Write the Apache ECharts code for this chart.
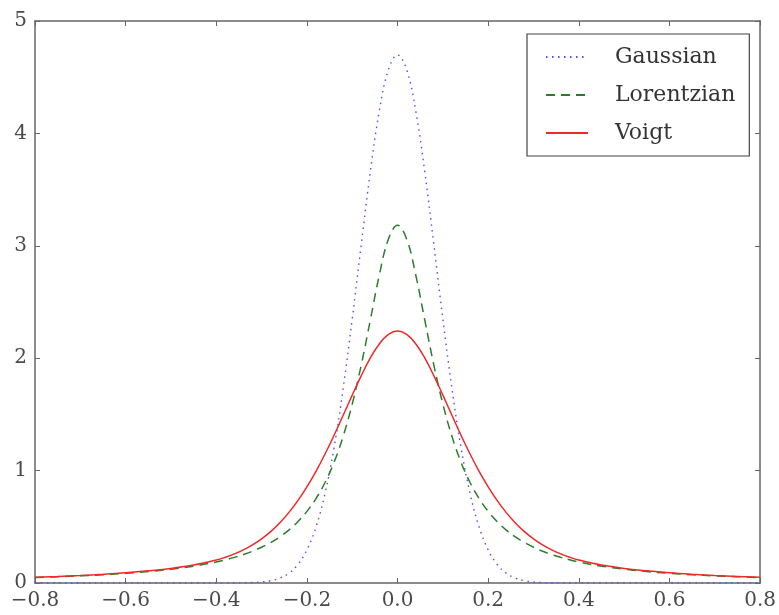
<!DOCTYPE html>
<html>
<head>
<meta charset="utf-8">
<script src="https://cdn.jsdelivr.net/npm/echarts@6/dist/echarts.min.js"></script>
<style>
html,body{margin:0;padding:0;background:#fff;}
#chart{width:779px;height:615px;}
</style>
</head>
<body>
<div id="chart"></div>
<script>
// x positions of the sampled points
const xs = [-0.8,-0.75,-0.7,-0.65,-0.6,-0.55,-0.5,-0.45,-0.4,
  -0.38,-0.36,-0.34,-0.32,-0.3,-0.28,-0.26,-0.24,-0.22,-0.2,-0.18,-0.16,-0.14,-0.12,-0.1,-0.08,-0.06,-0.04,-0.02,
  0,
  0.02,0.04,0.06,0.08,0.1,0.12,0.14,0.16,0.18,0.2,0.22,0.24,0.26,0.28,0.3,0.32,0.34,0.36,0.38,
  0.4,0.45,0.5,0.55,0.6,0.65,0.7,0.75,0.8];

const gaussian = [0,0,0,0,0,0,0,0,0.0001,
  0.0002,0.0006,0.0016,0.0039,0.0092,0.0205,0.0434,0.0867,0.164,0.294,0.497,0.797,1.207,1.731,2.349,3.014,3.660,4.204,4.569,
  4.697,
  4.569,4.204,3.660,3.014,2.349,1.731,1.207,0.797,0.497,0.294,0.164,0.0867,0.0434,0.0205,0.0092,0.0039,0.0016,0.0006,0.0002,
  0.0001,0,0,0,0,0,0,0,0];

const lorentzian = [0.0482,0.0556,0.0637,0.0736,0.0860,0.1019,0.1224,0.150,0.187,
  0.206,0.228,0.253,0.283,0.318,0.360,0.410,0.471,0.545,0.637,0.751,0.894,1.075,1.305,1.592,1.941,2.341,2.744,3.061,
  3.183,
  3.061,2.744,2.341,1.941,1.592,1.305,1.075,0.894,0.751,0.637,0.545,0.471,0.410,0.360,0.318,0.283,0.253,0.228,0.206,
  0.187,0.150,0.1224,0.1019,0.0860,0.0736,0.0637,0.0556,0.0482];

const voigt = [0.0502,0.0580,0.0668,0.0778,0.0912,0.1085,0.1297,0.1597,0.2046,
  0.2291,0.2588,0.2950,0.3391,0.3927,0.4572,0.5345,0.626,0.733,0.856,0.994,1.148,1.315,1.492,1.671,1.845,2.002,2.129,2.212,
  2.241,
  2.212,2.129,2.002,1.845,1.671,1.492,1.315,1.148,0.994,0.856,0.733,0.626,0.5345,0.4572,0.3927,0.3391,0.2950,0.2588,0.2291,
  0.2046,0.1597,0.1297,0.1085,0.0912,0.0778,0.0668,0.0580,0.0502];

const seriesNames = ['Gaussian','Lorentzian','Voigt'];
const xTickLabels = ['\u22120.8','\u22120.6','\u22120.4','\u22120.2','0.0','0.2','0.4','0.6','0.8'];
const yTickLabels = ['0','1','2','3','4','5'];

const X_MIN = -0.8, X_MAX = 0.8, X_STEP = 0.2;
const Y_MIN = 0, Y_MAX = 5, Y_STEP = 1;

const FONT = 'DejaVu Serif';
const FRAME = '#666';

function xLabel(v){ const i = Math.round((v - X_MIN)/X_STEP); return xTickLabels[i] ?? ''; }
function yLabel(v){ const i = Math.round((v - Y_MIN)/Y_STEP); return yTickLabels[i] ?? ''; }

function xAxisCfg(pos, labels){
  return {
    type:'value', position:pos, min:X_MIN, max:X_MAX, interval:X_STEP,
    axisLine:{show:true, onZero:false, lineStyle:{color:FRAME, width:1.5}},
    axisTick:{show:true, inside:true, length:5, lineStyle:{color:FRAME, width:1}},
    axisLabel:{show:labels, formatter:xLabel, color:'#4a4a4a', fontFamily:FONT, fontSize:20, margin:8},
    splitLine:{show:false}
  };
}
function yAxisCfg(pos, labels){
  return {
    type:'value', position:pos, min:Y_MIN, max:Y_MAX, interval:Y_STEP,
    axisLine:{show:true, onZero:false, lineStyle:{color:FRAME, width:1.5}},
    axisTick:{show:true, inside:true, length:5, lineStyle:{color:FRAME, width:1}},
    axisLabel:{show:labels, formatter:yLabel, color:'#4a4a4a', fontFamily:FONT, fontSize:20, margin:8},
    splitLine:{show:false}
  };
}

const chart = echarts.init(document.getElementById('chart'), null, {renderer:'canvas'});
chart.setOption({
  animation:false,
  backgroundColor:'#fff',
  grid:{left:35, right:14, top:21, bottom:32, containLabel:false},
  xAxis:[xAxisCfg('bottom', true), xAxisCfg('top', false)],
  yAxis:[yAxisCfg('left', true), yAxisCfg('right', false)],
  legend:{
    orient:'vertical', left:527, top:34,
    padding:[12, 14, 12, 18],
    borderColor:'#444', borderWidth:1.2, backgroundColor:'#fff',
    itemWidth:42, itemHeight:14, itemGap:16,
    itemStyle:{opacity:0},
    textStyle:{fontFamily:FONT, fontSize:22, color:'#333', padding:[0,0,0,22]},
    data:seriesNames
  },
  series:[
    {name:seriesNames[0], type:'line', symbol:'none', smooth:0.4,
     data:xs.map((x,i)=>[x, gaussian[i]]),
     lineStyle:{color:'#4d4dff', width:1.4, type:[1.5,4.5]}, itemStyle:{color:'#4d4dff'}},
    {name:seriesNames[1], type:'line', symbol:'none', smooth:0.4,
     data:xs.map((x,i)=>[x, lorentzian[i]]),
     lineStyle:{color:'#2a7d2a', width:1.5, type:[9,6]}, itemStyle:{color:'#2a7d2a'}},
    {name:seriesNames[2], type:'line', symbol:'none', smooth:0.4,
     data:xs.map((x,i)=>[x, voigt[i]]),
     lineStyle:{color:'#f02828', width:1.5, type:'solid'}, itemStyle:{color:'#f02828'}}
  ]
});
</script>
</body>
</html>
